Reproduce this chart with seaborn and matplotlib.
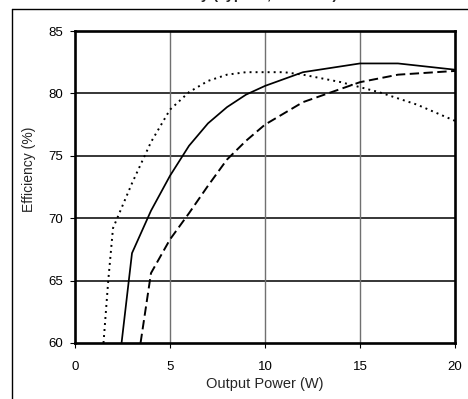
import matplotlib
matplotlib.use("Agg")
import matplotlib.pyplot as plt
from matplotlib.lines import Line2D
import seaborn as sns
import pandas as pd

# Data
solid_x = [2.45, 3, 4, 5, 6, 7, 8, 9, 10, 12, 15, 17, 20]
solid_y = [60.0, 67.2, 70.6, 73.4, 75.8, 77.6, 78.9, 79.9, 80.6, 81.7, 82.4, 82.4, 81.9]

dotted_x = [1.5, 1.75, 2, 3, 4, 5, 6, 7, 8, 9, 11, 12, 14, 16, 18, 20]
dotted_y = [60.0, 65.0, 69.2, 72.8, 76.1, 78.7, 80.1, 81.0, 81.5, 81.7, 81.7, 81.5, 80.9, 80.1, 79.1, 77.8]

dashed_x = [3.45, 4, 5, 6, 7, 8, 9, 10, 12, 15, 17, 20]
dashed_y = [60.0, 65.6, 68.3, 70.4, 72.6, 74.7, 76.2, 77.5, 79.3, 80.9, 81.5, 81.8]

x_ticks = [0, 5, 10, 15, 20]
y_ticks = [60, 65, 70, 75, 80, 85]

title_text = "Efficiency (Typical, Vin = 5V)"
x_label = "Output Power (W)"
y_label = "Efficiency (%)"

sns.set_style("white")
plt.rcParams["font.family"] = ["Liberation Sans", "DejaVu Sans"]

fig = plt.figure(figsize=(4.68, 3.99), dpi=100)
ax = fig.add_axes([75/468, 1-343/399, 380/468, 312/399])

df_s = pd.DataFrame({"x": solid_x, "y": solid_y})
df_d = pd.DataFrame({"x": dotted_x, "y": dotted_y})
df_k = pd.DataFrame({"x": dashed_x, "y": dashed_y})

sns.lineplot(data=df_s, x="x", y="y", ax=ax, color="black", lw=1.25, sort=False)
sns.lineplot(data=df_d, x="x", y="y", ax=ax, color="black", lw=1.4, sort=False)
sns.lineplot(data=df_k, x="x", y="y", ax=ax, color="black", lw=1.4, sort=False)
lines = ax.get_lines()
lines[1].set_dashes((1.0, 2.1))
lines[2].set_dashes((4.8, 2.3))

ax.set_xlim(0, 20)
ax.set_ylim(60, 85)
ax.set_xticks(x_ticks)
ax.set_yticks(y_ticks)
ax.set_xticklabels([str(t) for t in x_ticks])
ax.set_yticklabels([str(t) for t in y_ticks])

for y in y_ticks[1:-1]:
    ax.axhline(y, color="black", lw=1.1, zorder=0.5)
for x in x_ticks[1:-1]:
    ax.axvline(x, color="#707070", lw=1.0, zorder=0.5)

for s in ax.spines.values():
    s.set_visible(True)
    s.set_color("black")
    s.set_linewidth(1.9)

ax.tick_params(axis="both", direction="out", length=3.6, width=0.8, color="black",
               labelsize=9.5, labelcolor="black", bottom=True, left=True)
ax.tick_params(axis="x", pad=9)
ax.tick_params(axis="y", pad=5)

ax.set_xlabel(x_label, fontsize=10.5, labelpad=3)
ax.set_ylabel(y_label, fontsize=10)
ax.yaxis.label.set_rotation_mode("default")
ax.yaxis.label.set_va("center")
ax.yaxis.label.set_ha("center")
ax.yaxis.set_label_coords(-0.122, 0.558)

# outer frame (partially cut off)
fig.add_artist(Line2D([12/468, 1.0], [1-9/399, 1-9/399], color="black", lw=1.0,
                      transform=fig.transFigure))
fig.add_artist(Line2D([12/468, 12/468], [0, 1-9/399], color="black", lw=1.0,
                      transform=fig.transFigure))

# title is cut off at the top edge in the reference (only descenders visible)
fig.text(239/468, 1+0.5/399, title_text, ha="center", va="baseline",
         fontsize=10.5, fontweight="bold")

fig.savefig("out.png", dpi=100)
